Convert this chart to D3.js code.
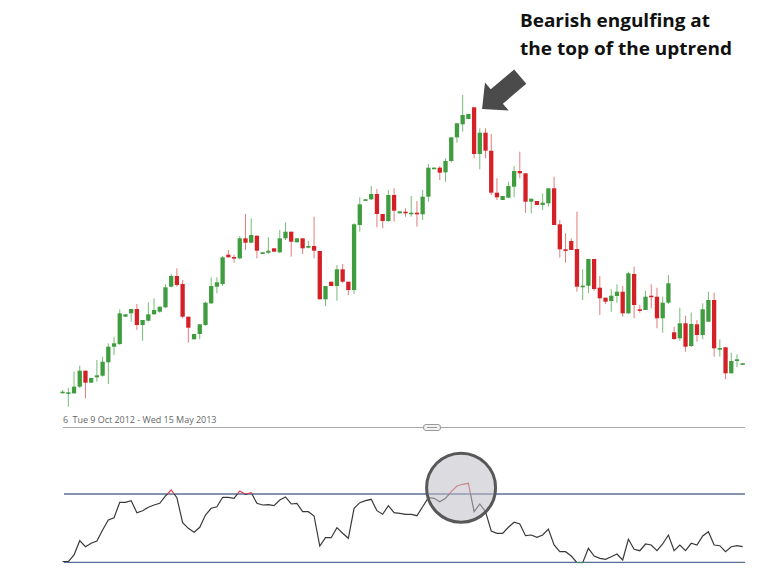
<!DOCTYPE html>
<html>
<head>
<meta charset="utf-8">
<script src="https://cdn.jsdelivr.net/npm/d3@7"></script>
<style>
html,body{margin:0;padding:0;background:#fff;}
svg{display:block;}
</style>
</head>
<body>
<svg id="chart" width="783" height="583"></svg>
<script>
// ---- data ----
const dateRangeLabel = "Tue 9 Oct 2012 - Wed 15 May 2013";
const annotationLines = ["Bearish engulfing at", "the top of the uptrend"];
const rsiLevels = [70, 30];

const open = [100.83,100.73,100.67,101.33,102.93,101.73,102.27,102.43,103.77,105.33,
105.60,108.33,108.67,109.10,107.50,107.93,108.57,108.83,109.27,111.33,
112.40,111.60,108.33,106.07,106.60,107.50,109.67,111.33,111.60,114.53,
114.30,114.17,116.17,115.73,116.43,114.60,114.73,115.17,114.77,116.17,
116.83,115.77,116.17,115.23,115.40,114.90,110.07,111.83,111.40,113.07,
111.83,111.00,117.50,120.00,120.07,120.60,118.60,117.90,120.50,118.67,
118.83,118.67,118.73,118.57,120.33,123.13,123.23,122.77,123.90,126.27,
127.57,128.10,129.27,124.60,126.73,124.93,120.73,120.00,120.23,121.33,
122.90,122.67,119.83,119.90,119.50,119.67,121.17,117.57,115.07,115.90,
115.10,111.37,111.43,114.10,111.23,110.23,109.90,110.40,110.83,108.67,
112.60,109.07,109.00,110.43,110.33,108.17,109.73,106.77,106.17,107.67,
105.40,107.57,106.50,107.83,110.00,105.15,105.27,102.67,103.90,103.64];

const high = [101.00,101.20,102.83,103.43,102.93,102.20,104.00,104.33,105.67,106.33,
109.07,108.57,109.10,109.60,108.00,109.77,110.17,109.33,111.57,112.60,
113.17,112.00,108.33,106.60,107.57,109.83,112.27,112.27,114.40,115.00,
114.53,116.40,118.60,118.17,116.43,114.77,116.27,115.17,117.00,117.77,
116.83,116.17,116.17,115.93,118.33,114.90,111.40,111.83,113.50,113.60,
111.83,117.67,120.27,120.10,121.40,121.10,118.60,121.00,121.17,118.87,
119.17,120.40,119.90,121.00,123.60,123.30,123.40,124.17,126.27,127.67,
130.50,128.60,129.27,127.17,127.17,126.60,122.17,120.40,121.83,123.40,
124.83,122.67,120.13,119.90,120.67,121.17,122.33,118.00,116.67,116.17,
118.83,113.07,114.10,114.10,112.40,110.23,111.07,111.57,111.40,112.83,
113.33,109.50,110.93,111.57,111.23,110.33,112.50,107.33,109.23,108.43,
108.73,108.00,109.67,110.83,110.73,106.07,105.27,104.73,104.57,103.70];

const low = [100.70,99.33,100.60,101.20,100.17,101.73,101.83,102.33,101.60,104.50,
105.50,108.33,107.83,107.00,105.93,107.83,108.50,108.73,109.17,111.27,
111.33,108.17,105.73,106.07,106.07,107.43,109.60,110.67,111.40,114.27,
113.73,114.07,115.00,115.67,114.17,114.60,114.60,114.83,114.67,116.00,
114.33,115.77,114.60,115.17,114.17,110.07,109.40,111.40,109.93,111.70,
110.50,110.60,116.83,119.97,120.00,117.27,117.17,117.83,117.83,118.67,
118.33,118.33,117.33,118.00,119.83,123.10,122.00,121.83,123.73,125.73,
126.83,128.10,124.17,123.07,124.17,120.50,120.00,120.00,120.17,120.27,
122.17,118.73,118.67,119.50,119.00,119.33,117.50,114.23,113.73,115.00,
110.83,110.00,110.67,110.93,108.50,109.60,108.83,109.73,108.33,108.60,
108.17,108.73,109.00,109.17,107.17,106.73,109.60,106.00,105.93,104.83,
105.30,105.83,106.07,107.83,104.33,104.33,102.07,102.67,103.27,103.60];

const close = [100.83,100.77,101.33,102.93,101.73,102.20,102.47,103.83,105.33,105.67,
108.67,108.57,109.10,107.50,108.00,108.57,109.00,109.33,111.27,112.40,
111.50,108.33,107.23,106.60,107.57,109.73,111.40,111.77,114.27,114.27,
114.23,116.17,115.73,116.50,114.93,114.77,114.93,114.83,116.17,116.83,
115.83,116.17,115.17,115.40,114.93,110.07,111.40,111.40,113.07,111.83,
111.00,117.57,119.57,120.07,120.60,118.60,117.90,120.50,118.93,118.87,
118.67,118.73,118.63,120.33,123.23,123.23,122.73,123.90,126.27,127.67,
128.50,128.60,124.60,126.73,124.93,120.73,120.27,120.40,121.40,122.90,
122.67,119.83,120.13,119.50,119.73,121.17,117.50,115.07,115.00,115.00,
111.33,111.43,114.10,111.10,110.17,109.83,110.43,110.83,108.67,112.67,
109.50,109.00,110.33,110.37,108.17,109.73,111.67,106.10,107.67,105.33,
107.60,106.50,109.07,110.00,105.17,105.20,102.67,103.90,104.07,103.67];

const rsi = [30.35,30.35,34.28,42.65,39.14,41.13,42.48,48.92,54.77,56.12,
65.14,65.14,66.08,59.05,60.22,62.21,63.56,64.56,68.83,72.35,
67.84,53.19,49.91,47.57,50.50,57.70,61.63,62.56,68.07,68.07,
67.48,71.76,69.83,70.76,64.56,63.56,63.74,63.15,66.49,68.25,
64.15,64.56,59.64,59.64,57.12,39.55,44.41,44.41,50.27,46.99,
44.06,61.63,64.91,66.08,66.90,60.22,58.11,63.15,59.05,58.70,
58.11,58.11,57.29,62.56,67.84,67.48,65.49,67.48,71.35,74.69,
75.69,76.27,59.64,64.15,59.64,48.33,46.99,46.99,50.50,53.43,
52.43,45.58,45.99,44.64,45.99,49.50,40.13,36.21,36.21,33.69,
29.77,29.77,38.20,33.69,32.34,31.76,33.28,34.86,31.35,43.47,
37.61,36.79,40.72,40.13,36.79,40.72,45.99,36.79,40.13,36.79,
41.13,40.13,45.40,47.92,40.13,39.72,36.21,39.14,39.72,39.14];

const engulfIndex = 72;

// ---- build ----
const candles = open.map((o, i) => ({i, o, h: high[i], l: low[i], c: close[i]}));
const svg = d3.select("#chart");

const x = d3.scaleLinear().domain([0, candles.length - 1]).range([62.6, 742.7]);
const y = d3.scaleLinear().domain([100, 130]).range([400, 100]);
const yr = d3.scaleLinear().domain([30, 70]).range([562.3, 494]);

const GREEN = "#3f9d3f", RED = "#d42127";
const GREEN_W = "#78bb78", RED_W = "#e27c7c";
const bw = 4.3;

const g = svg.append("g");
// wicks
g.selectAll("line.wick").data(candles).join("line")
  .attr("x1", d => x(d.i)).attr("x2", d => x(d.i))
  .attr("y1", d => y(d.h)).attr("y2", d => y(d.l))
  .attr("stroke", d => d.c >= d.o ? GREEN_W : RED_W)
  .attr("stroke-width", 1);
// bodies
g.selectAll("rect.body").data(candles).join("rect")
  .attr("x", d => x(d.i) - bw / 2)
  .attr("width", bw)
  .attr("y", d => y(Math.max(d.o, d.c)))
  .attr("height", d => Math.max(1.6, Math.abs(y(d.o) - y(d.c))))
  .attr("fill", d => d.c >= d.o ? GREEN : RED);

// date range label and divider
svg.append("text").attr("x", 63).attr("y", 422.5)
  .attr("font-family", "Open Sans, Arial, sans-serif").attr("font-size", 9)
  .attr("fill", "#666").text("6");
svg.append("text").attr("x", 72.5).attr("y", 422.5)
  .attr("font-family", "Open Sans, Arial, sans-serif").attr("font-size", 9)
  .attr("fill", "#666").attr("textLength", 144).attr("lengthAdjust", "spacing")
  .text(dateRangeLabel);
svg.append("line").attr("x1", 63).attr("x2", 745).attr("y1", 427.5).attr("y2", 427.5)
  .attr("stroke", "#a8a8a8").attr("stroke-width", 1);
svg.append("rect").attr("x", 423.5).attr("y", 424.5).attr("width", 17).attr("height", 6).attr("rx", 2.5)
  .attr("fill", "#f2f2f2").attr("stroke", "#9a9a9a").attr("stroke-width", 1);
svg.append("line").attr("x1", 427).attr("x2", 437).attr("y1", 427.5).attr("y2", 427.5)
  .attr("stroke", "#9a9a9a").attr("stroke-width", 1);

// RSI panel
const rg = svg.append("g");
rg.selectAll("line.level").data(rsiLevels).join("line")
  .attr("x1", 64).attr("x2", 745)
  .attr("y1", d => yr(d)).attr("y2", d => yr(d))
  .attr("stroke", "#5a6f96").attr("stroke-width", 1.3);

const defs = svg.append("defs");
defs.append("clipPath").attr("id", "above")
  .append("rect").attr("x", 0).attr("y", 0).attr("width", 783).attr("height", yr(70));
defs.append("clipPath").attr("id", "mid")
  .append("rect").attr("x", 0).attr("y", yr(70)).attr("width", 783).attr("height", yr(30) - yr(70));
defs.append("clipPath").attr("id", "below")
  .append("rect").attr("x", 0).attr("y", yr(30)).attr("width", 783).attr("height", 30);

const line = d3.line().x((d, i) => x(i)).y(d => yr(d));
rg.append("path").datum(rsi).attr("d", line).attr("fill", "none")
  .attr("stroke", "#3a3a3a").attr("stroke-width", 1.2).attr("clip-path", "url(#mid)");
rg.append("path").datum(rsi).attr("d", line).attr("fill", "none")
  .attr("stroke", "#d9434b").attr("stroke-width", 1.2).attr("clip-path", "url(#above)");
rg.append("path").datum(rsi).attr("d", line).attr("fill", "none")
  .attr("stroke", "#4a9a6a").attr("stroke-width", 1.2).attr("clip-path", "url(#below)");

// highlight circle on RSI around the engulfing candle
svg.append("circle").attr("cx", x(engulfIndex) - 13).attr("cy", 487.7).attr("r", 34.5)
  .attr("fill", "rgba(190,190,198,0.55)").attr("stroke", "#585858").attr("stroke-width", 3);

// arrow pointing at the engulfing candle
const tipX = x(engulfIndex) + 8, tipY = y(high[engulfIndex]) + 1.7;
const arrowPts = [[0,0],[19.3,-18.3],[19.3,-9.4],[50,-9.4],[50,9.4],[19.3,9.4],[19.3,18.3]];
svg.append("polygon")
  .attr("points", arrowPts.map(p => p.join(",")).join(" "))
  .attr("transform", `translate(${tipX},${tipY}) rotate(-40.3)`)
  .attr("fill", "#4b4b4b");

// annotation text
const annWidths = [190, 212];
svg.append("g").selectAll("text").data(annotationLines).join("text")
  .attr("x", 520).attr("y", (d, i) => 27 + i * 28)
  .attr("font-family", "'Open Sans', Lato, sans-serif").attr("font-weight", 700)
  .attr("font-size", 18).attr("fill", "#111")
  .attr("textLength", (d, i) => annWidths[i]).attr("lengthAdjust", "spacingAndGlyphs")
  .text(d => d);
</script>
</body>
</html>
